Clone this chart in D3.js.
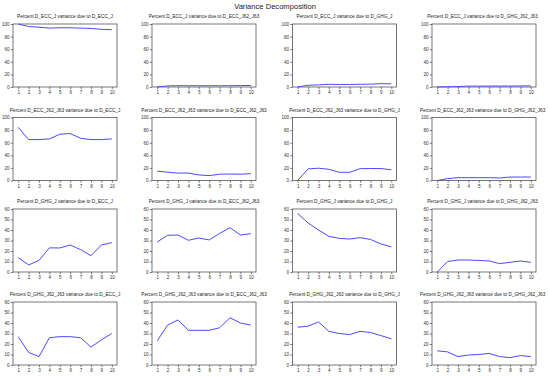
<!DOCTYPE html>
<html><head><meta charset="utf-8">
<script src="https://cdn.jsdelivr.net/npm/d3@7"></script>
<style>body{margin:0;background:#fff}svg{display:block}</style>
</head><body>
<svg id="c" width="550" height="377"></svg>
<script>
const periods = [1,2,3,4,5,6,7,8,9,10];
const responses = ["D_ECC_J","D_ECC_J62_J63","D_GHG_J","D_GHG_J62_J63"];
const shocks = ["D_ECC_J","D_ECC_J62_J63","D_GHG_J","D_GHG_J62_J63"];
const yMaxByRow = [100,100,60,60];
const yTicksByRow = [[0,20,40,60,80,100],[0,20,40,60,80,100],[0,10,20,30,40,50,60],[0,10,20,30,40,50,60]];

// row 1: D_ECC_J
const eccJ_eccJ   = [100,96,95,93.5,94,94,93.5,93,91.5,91];
const eccJ_ecc62  = [0,1.8,2,2,2,2,2,2,2.3,2.4];
const eccJ_ghgJ   = [0,2.8,3.3,4.3,4,4,4.3,4.5,5.3,5];
const eccJ_ghg62  = [0,0.5,0.6,1.4,1.4,1.5,1.5,1.5,1.7,1.7];
// row 2: D_ECC_J62_J63
const ecc62_eccJ  = [84.5,65,65,66,73.5,74.5,67,65,65,66];
const ecc62_ecc62 = [14.8,13.2,11.8,11.8,8.8,7.8,10,10.3,10,10.8];
const ecc62_ghgJ  = [0,18.4,19.5,17.8,13,13,18.8,19,19,17];
const ecc62_ghg62 = [0,3,4.5,4.5,4.5,4.5,4,5.5,5.5,5.5];
// row 3: D_GHG_J
const ghgJ_eccJ   = [13.7,6.7,11,23,22.9,25.7,21.3,15.6,25.7,28];
const ghgJ_ecc62  = [28.6,35,35.2,30.2,32.4,30.5,36.8,42.2,35.2,36.5];
const ghgJ_ghgJ   = [55.6,46.7,40,34,32,31.4,32.7,31,26.7,24];
const ghgJ_ghg62  = [0,10,11.4,11.4,11,10.5,8,9.2,10.5,9.2];
// row 4: D_GHG_J62_J63
const ghg62_eccJ  = [27,12,8,26,27,27,26,17,24,30];
const ghg62_ecc62 = [23,38,43,33,33,33,35.5,45,40,38];
const ghg62_ghgJ  = [36,37,41,32,30,29,32,31,28,25];
const ghg62_ghg62 = [13.5,12.5,8,9.5,10,11,8,7,9,8];

const series = [
  [eccJ_eccJ,eccJ_ecc62,eccJ_ghgJ,eccJ_ghg62],
  [ecc62_eccJ,ecc62_ecc62,ecc62_ghgJ,ecc62_ghg62],
  [ghgJ_eccJ,ghgJ_ecc62,ghgJ_ghgJ,ghgJ_ghg62],
  [ghg62_eccJ,ghg62_ecc62,ghg62_ghgJ,ghg62_ghg62]
];

const svg = d3.select("#c");
const font = "Arial, 'Liberation Sans', sans-serif";
svg.append("text").attr("x",275).attr("y",9).attr("text-anchor","middle")
  .attr("font-family",font).attr("font-size",7.6).attr("fill","#222").text("Variance Decomposition");

const colLeft = [13,152,292.5,432];
const rowTop = [24,117.5,209,302];
const W = 104, H = 63;

for (let r=0;r<4;r++){
  for (let c=0;c<4;c++){
    const g = svg.append("g").attr("transform",`translate(${colLeft[c]},${rowTop[r]})`);
    const x = d3.scalePoint().domain(periods).range([0,W]).padding(0.5);
    const y = d3.scaleLinear().domain([0,yMaxByRow[r]]).range([H,0]);
    const title = `Percent ${responses[r]} variance due to ${shocks[c]}`;
    g.append("text").attr("x",c===3 ? W/2-1.5 : W/2).attr("y",-6).attr("text-anchor","middle")
      .attr("font-family",font).attr("font-size",4.6).attr("fill","#222")
      .attr("textLength",title.length*2.46).attr("lengthAdjust","spacingAndGlyphs")
      .text(title);
    g.append("rect").attr("x",0).attr("y",0).attr("width",W).attr("height",H)
      .attr("fill","none").attr("stroke","#555").attr("stroke-width",0.8);
    const ya = g.append("g").call(d3.axisLeft(y).tickValues(yTicksByRow[r]).tickSize(2.2).tickPadding(1.2));
    ya.select(".domain").remove();
    ya.selectAll("line").attr("stroke","#444").attr("stroke-width",0.7);
    ya.selectAll("text").attr("font-family",font).attr("font-size",4.6).attr("fill","#333");
    const xa = g.append("g").attr("transform",`translate(0,${H})`).call(d3.axisBottom(x).tickSize(2.2).tickPadding(1.8));
    xa.select(".domain").remove();
    xa.selectAll("line").attr("stroke","#444").attr("stroke-width",0.7);
    xa.selectAll("text").attr("font-family",font).attr("font-size",4.6).attr("fill","#333");
    const line = d3.line().x((d,i)=>x(periods[i])).y(d=>y(d));
    g.append("path").datum(series[r][c]).attr("d",line).attr("fill","none")
      .attr("stroke","#4a4aff").attr("stroke-width",1);
  }
}
</script>
</body></html>
